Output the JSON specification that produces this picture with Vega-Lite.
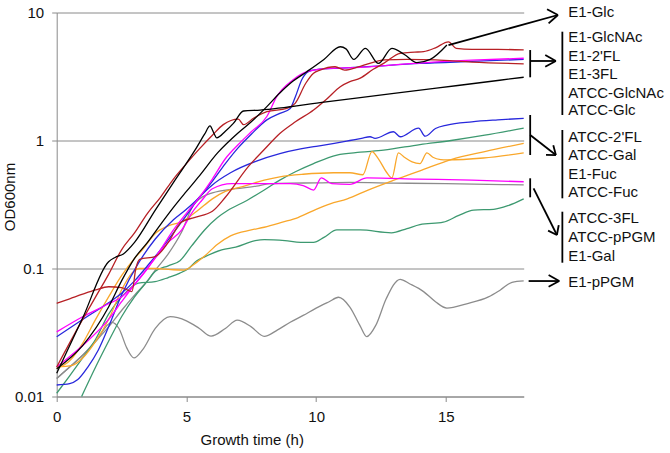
{
  "$schema": "https://vega.github.io/schema/vega-lite/v6.json",
  "autosize": {"type": "none"},
  "width": 467,
  "height": 384,
  "padding": {"left": 56.7, "top": 12.5, "right": 146.3, "bottom": 56.5},
  "background": "white",
  "config": {"view": {"stroke": null}, "font": "Liberation Sans"},
  "datasets": {
    "curves": [
      {"s":"E1-pPGM","x":0,"y":0.0138},{"s":"E1-pPGM","x":0.5,"y":0.017},{"s":"E1-pPGM","x":1,"y":0.021},{"s":"E1-pPGM","x":1.5,"y":0.027},{"s":"E1-pPGM","x":2.12,"y":0.038},{"s":"E1-pPGM","x":2.4,"y":0.034},{"s":"E1-pPGM","x":2.7,"y":0.024},{"s":"E1-pPGM","x":2.98,"y":0.02},{"s":"E1-pPGM","x":3.3,"y":0.023},{"s":"E1-pPGM","x":3.8,"y":0.034},{"s":"E1-pPGM","x":4.37,"y":0.042},{"s":"E1-pPGM","x":5,"y":0.039},{"s":"E1-pPGM","x":5.5,"y":0.034},{"s":"E1-pPGM","x":5.95,"y":0.0296},{"s":"E1-pPGM","x":6.5,"y":0.034},{"s":"E1-pPGM","x":6.96,"y":0.0395},{"s":"E1-pPGM","x":7.5,"y":0.035},{"s":"E1-pPGM","x":8,"y":0.0295},{"s":"E1-pPGM","x":8.5,"y":0.033},{"s":"E1-pPGM","x":9,"y":0.038},{"s":"E1-pPGM","x":9.5,"y":0.043},{"s":"E1-pPGM","x":10,"y":0.049},{"s":"E1-pPGM","x":10.5,"y":0.055},{"s":"E1-pPGM","x":10.86,"y":0.0596},{"s":"E1-pPGM","x":11.3,"y":0.05},{"s":"E1-pPGM","x":11.7,"y":0.0355},{"s":"E1-pPGM","x":11.95,"y":0.0294},{"s":"E1-pPGM","x":12.3,"y":0.036},{"s":"E1-pPGM","x":12.7,"y":0.058},{"s":"E1-pPGM","x":13.24,"y":0.0823},{"s":"E1-pPGM","x":13.6,"y":0.076},{"s":"E1-pPGM","x":14.14,"y":0.066},{"s":"E1-pPGM","x":14.6,"y":0.055},{"s":"E1-pPGM","x":15.04,"y":0.049},{"s":"E1-pPGM","x":15.8,"y":0.053},{"s":"E1-pPGM","x":16.64,"y":0.06},{"s":"E1-pPGM","x":17.1,"y":0.068},{"s":"E1-pPGM","x":17.55,"y":0.078},{"s":"E1-pPGM","x":18,"y":0.08},

      {"s":"ATCC-pPGM","x":0,"y":0.0138},{"s":"ATCC-pPGM","x":0.5,"y":0.017},{"s":"ATCC-pPGM","x":1,"y":0.021},{"s":"ATCC-pPGM","x":1.5,"y":0.027},{"s":"ATCC-pPGM","x":2,"y":0.035},{"s":"ATCC-pPGM","x":2.5,"y":0.047},{"s":"ATCC-pPGM","x":3,"y":0.062},{"s":"ATCC-pPGM","x":3.5,"y":0.08},{"s":"ATCC-pPGM","x":3.8,"y":0.097},{"s":"ATCC-pPGM","x":4.3,"y":0.13},{"s":"ATCC-pPGM","x":4.8,"y":0.19},{"s":"ATCC-pPGM","x":5.3,"y":0.32},{"s":"ATCC-pPGM","x":6,"y":0.39},{"s":"ATCC-pPGM","x":6.9,"y":0.42},{"s":"ATCC-pPGM","x":7.7,"y":0.44},{"s":"ATCC-pPGM","x":8.2,"y":0.46},{"s":"ATCC-pPGM","x":9,"y":0.465},{"s":"ATCC-pPGM","x":10,"y":0.466},{"s":"ATCC-pPGM","x":11.3,"y":0.47},{"s":"ATCC-pPGM","x":13,"y":0.465},{"s":"ATCC-pPGM","x":15,"y":0.46},{"s":"ATCC-pPGM","x":18,"y":0.45},

      {"s":"E1-Gal","x":0,"y":0.0106},{"s":"E1-Gal","x":0.5,"y":0.0145},{"s":"E1-Gal","x":1,"y":0.02},{"s":"E1-Gal","x":1.5,"y":0.028},{"s":"E1-Gal","x":2,"y":0.044},{"s":"E1-Gal","x":2.5,"y":0.06},{"s":"E1-Gal","x":3.15,"y":0.077},{"s":"E1-Gal","x":3.79,"y":0.079},{"s":"E1-Gal","x":4.3,"y":0.085},{"s":"E1-Gal","x":4.75,"y":0.092},{"s":"E1-Gal","x":5.08,"y":0.1},{"s":"E1-Gal","x":5.4,"y":0.115},{"s":"E1-Gal","x":5.72,"y":0.124},{"s":"E1-Gal","x":6.36,"y":0.14},{"s":"E1-Gal","x":6.9,"y":0.147},{"s":"E1-Gal","x":7.65,"y":0.165},{"s":"E1-Gal","x":8,"y":0.168},{"s":"E1-Gal","x":8.8,"y":0.165},{"s":"E1-Gal","x":9.4,"y":0.16},{"s":"E1-Gal","x":9.9,"y":0.16},{"s":"E1-Gal","x":10.3,"y":0.175},{"s":"E1-Gal","x":10.8,"y":0.2},{"s":"E1-Gal","x":11.7,"y":0.2},{"s":"E1-Gal","x":12.9,"y":0.19},{"s":"E1-Gal","x":13.5,"y":0.205},{"s":"E1-Gal","x":14,"y":0.22},{"s":"E1-Gal","x":14.9,"y":0.23},{"s":"E1-Gal","x":15.5,"y":0.26},{"s":"E1-Gal","x":16.07,"y":0.286},{"s":"E1-Gal","x":16.84,"y":0.29},{"s":"E1-Gal","x":17.4,"y":0.31},{"s":"E1-Gal","x":18,"y":0.35},

      {"s":"ATCC-Gal","x":0.96,"y":0.01},{"s":"ATCC-Gal","x":1.5,"y":0.017},{"s":"ATCC-Gal","x":2,"y":0.027},{"s":"ATCC-Gal","x":2.5,"y":0.042},{"s":"ATCC-Gal","x":3,"y":0.06},{"s":"ATCC-Gal","x":3.5,"y":0.08},{"s":"ATCC-Gal","x":3.8,"y":0.095},{"s":"ATCC-Gal","x":4.3,"y":0.105},{"s":"ATCC-Gal","x":4.75,"y":0.115},{"s":"ATCC-Gal","x":5.2,"y":0.15},{"s":"ATCC-Gal","x":5.7,"y":0.2},{"s":"ATCC-Gal","x":6.2,"y":0.25},{"s":"ATCC-Gal","x":6.6,"y":0.285},{"s":"ATCC-Gal","x":7.33,"y":0.34},{"s":"ATCC-Gal","x":8,"y":0.41},{"s":"ATCC-Gal","x":8.6,"y":0.49},{"s":"ATCC-Gal","x":9.2,"y":0.57},{"s":"ATCC-Gal","x":9.9,"y":0.66},{"s":"ATCC-Gal","x":10.8,"y":0.77},{"s":"ATCC-Gal","x":11.7,"y":0.81},{"s":"ATCC-Gal","x":12.6,"y":0.84},{"s":"ATCC-Gal","x":14,"y":0.93},{"s":"ATCC-Gal","x":15.2,"y":1.0},{"s":"ATCC-Gal","x":16.5,"y":1.1},{"s":"ATCC-Gal","x":18,"y":1.25},

      {"s":"E1-Fuc","x":0,"y":0.017},{"s":"E1-Fuc","x":0.6,"y":0.0175},{"s":"E1-Fuc","x":1,"y":0.02},{"s":"E1-Fuc","x":1.5,"y":0.027},{"s":"E1-Fuc","x":2,"y":0.04},{"s":"E1-Fuc","x":2.5,"y":0.068},{"s":"E1-Fuc","x":2.9,"y":0.092},{"s":"E1-Fuc","x":3.2,"y":0.1},{"s":"E1-Fuc","x":3.8,"y":0.1},{"s":"E1-Fuc","x":4.4,"y":0.098},{"s":"E1-Fuc","x":4.9,"y":0.097},{"s":"E1-Fuc","x":5.3,"y":0.108},{"s":"E1-Fuc","x":5.7,"y":0.125},{"s":"E1-Fuc","x":6.2,"y":0.155},{"s":"E1-Fuc","x":6.7,"y":0.18},{"s":"E1-Fuc","x":7.5,"y":0.2},{"s":"E1-Fuc","x":8,"y":0.21},{"s":"E1-Fuc","x":8.7,"y":0.23},{"s":"E1-Fuc","x":9.3,"y":0.25},{"s":"E1-Fuc","x":10,"y":0.29},{"s":"E1-Fuc","x":10.54,"y":0.32},{"s":"E1-Fuc","x":11.2,"y":0.35},{"s":"E1-Fuc","x":12,"y":0.41},{"s":"E1-Fuc","x":13,"y":0.49},{"s":"E1-Fuc","x":14,"y":0.58},{"s":"E1-Fuc","x":15.2,"y":0.71},{"s":"E1-Fuc","x":16.5,"y":0.82},{"s":"E1-Fuc","x":18,"y":0.95},

      {"s":"ATCC-Fuc","x":0,"y":0.0165},{"s":"ATCC-Fuc","x":0.5,"y":0.019},{"s":"ATCC-Fuc","x":1,"y":0.026},{"s":"ATCC-Fuc","x":1.5,"y":0.04},{"s":"ATCC-Fuc","x":2,"y":0.06},{"s":"ATCC-Fuc","x":2.5,"y":0.088},{"s":"ATCC-Fuc","x":3,"y":0.12},{"s":"ATCC-Fuc","x":3.3,"y":0.14},{"s":"ATCC-Fuc","x":3.8,"y":0.188},{"s":"ATCC-Fuc","x":4.3,"y":0.215},{"s":"ATCC-Fuc","x":4.82,"y":0.232},{"s":"ATCC-Fuc","x":5.4,"y":0.28},{"s":"ATCC-Fuc","x":6,"y":0.35},{"s":"ATCC-Fuc","x":6.5,"y":0.4},{"s":"ATCC-Fuc","x":7.13,"y":0.435},{"s":"ATCC-Fuc","x":8,"y":0.49},{"s":"ATCC-Fuc","x":8.6,"y":0.52},{"s":"ATCC-Fuc","x":9.5,"y":0.545},{"s":"ATCC-Fuc","x":10.67,"y":0.56},{"s":"ATCC-Fuc","x":11.3,"y":0.56},{"s":"ATCC-Fuc","x":11.8,"y":0.54},{"s":"ATCC-Fuc","x":12.15,"y":0.82},{"s":"ATCC-Fuc","x":12.4,"y":0.72},{"s":"ATCC-Fuc","x":12.7,"y":0.57},{"s":"ATCC-Fuc","x":12.92,"y":0.51},{"s":"ATCC-Fuc","x":13.17,"y":0.8},{"s":"ATCC-Fuc","x":13.4,"y":0.74},{"s":"ATCC-Fuc","x":13.7,"y":0.68},{"s":"ATCC-Fuc","x":14,"y":0.66},{"s":"ATCC-Fuc","x":14.27,"y":0.8},{"s":"ATCC-Fuc","x":14.5,"y":0.74},{"s":"ATCC-Fuc","x":14.8,"y":0.71},{"s":"ATCC-Fuc","x":15.04,"y":0.705},{"s":"ATCC-Fuc","x":16.45,"y":0.73},{"s":"ATCC-Fuc","x":18,"y":0.8},

      {"s":"ATCC-2'FL","x":0,"y":0.0293},{"s":"ATCC-2'FL","x":1,"y":0.04},{"s":"ATCC-2'FL","x":2,"y":0.054},{"s":"ATCC-2'FL","x":2.5,"y":0.064},{"s":"ATCC-2'FL","x":3,"y":0.08},{"s":"ATCC-2'FL","x":3.5,"y":0.105},{"s":"ATCC-2'FL","x":4,"y":0.14},{"s":"ATCC-2'FL","x":4.5,"y":0.19},{"s":"ATCC-2'FL","x":5,"y":0.26},{"s":"ATCC-2'FL","x":5.5,"y":0.36},{"s":"ATCC-2'FL","x":6,"y":0.45},{"s":"ATCC-2'FL","x":6.7,"y":0.56},{"s":"ATCC-2'FL","x":7.7,"y":0.69},{"s":"ATCC-2'FL","x":8.6,"y":0.79},{"s":"ATCC-2'FL","x":9.4,"y":0.86},{"s":"ATCC-2'FL","x":10,"y":0.9},{"s":"ATCC-2'FL","x":10.7,"y":0.95},{"s":"ATCC-2'FL","x":11.3,"y":1.0},{"s":"ATCC-2'FL","x":11.75,"y":1.04},{"s":"ATCC-2'FL","x":12.08,"y":1.07},{"s":"ATCC-2'FL","x":12.27,"y":1.04},{"s":"ATCC-2'FL","x":12.98,"y":1.17},{"s":"ATCC-2'FL","x":13.24,"y":1.07},{"s":"ATCC-2'FL","x":13.95,"y":1.25},{"s":"ATCC-2'FL","x":14.2,"y":1.08},{"s":"ATCC-2'FL","x":14.6,"y":1.24},{"s":"ATCC-2'FL","x":15.04,"y":1.32},{"s":"ATCC-2'FL","x":16,"y":1.4},{"s":"ATCC-2'FL","x":17,"y":1.45},{"s":"ATCC-2'FL","x":18,"y":1.49},

      {"s":"E1-2'FL","x":0,"y":0.0123},{"s":"E1-2'FL","x":0.5,"y":0.0126},{"s":"E1-2'FL","x":0.8,"y":0.0135},{"s":"E1-2'FL","x":1.2,"y":0.017},{"s":"E1-2'FL","x":1.6,"y":0.023},{"s":"E1-2'FL","x":2,"y":0.035},{"s":"E1-2'FL","x":2.5,"y":0.062},{"s":"E1-2'FL","x":3.15,"y":0.11},{"s":"E1-2'FL","x":3.8,"y":0.17},{"s":"E1-2'FL","x":4.5,"y":0.24},{"s":"E1-2'FL","x":5,"y":0.29},{"s":"E1-2'FL","x":5.5,"y":0.36},{"s":"E1-2'FL","x":6,"y":0.48},{"s":"E1-2'FL","x":6.5,"y":0.66},{"s":"E1-2'FL","x":7,"y":0.88},{"s":"E1-2'FL","x":7.5,"y":1.12},{"s":"E1-2'FL","x":8.1,"y":1.45},{"s":"E1-2'FL","x":8.6,"y":1.63},{"s":"E1-2'FL","x":9,"y":1.78},{"s":"E1-2'FL","x":9.2,"y":2.2},{"s":"E1-2'FL","x":9.45,"y":3.0},{"s":"E1-2'FL","x":9.7,"y":3.45},{"s":"E1-2'FL","x":10,"y":3.58},{"s":"E1-2'FL","x":11,"y":3.68},{"s":"E1-2'FL","x":12,"y":3.78},{"s":"E1-2'FL","x":14,"y":4.0},{"s":"E1-2'FL","x":16,"y":4.15},{"s":"E1-2'FL","x":18,"y":4.3},

      {"s":"ATCC-3FL","x":0,"y":0.032},{"s":"ATCC-3FL","x":1,"y":0.042},{"s":"ATCC-3FL","x":2,"y":0.053},{"s":"ATCC-3FL","x":2.5,"y":0.06},{"s":"ATCC-3FL","x":3,"y":0.075},{"s":"ATCC-3FL","x":3.79,"y":0.12},{"s":"ATCC-3FL","x":4.3,"y":0.16},{"s":"ATCC-3FL","x":4.82,"y":0.2},{"s":"ATCC-3FL","x":5.2,"y":0.27},{"s":"ATCC-3FL","x":5.59,"y":0.34},{"s":"ATCC-3FL","x":6,"y":0.42},{"s":"ATCC-3FL","x":6.75,"y":0.46},{"s":"ATCC-3FL","x":8,"y":0.46},{"s":"ATCC-3FL","x":9,"y":0.46},{"s":"ATCC-3FL","x":9.5,"y":0.445},{"s":"ATCC-3FL","x":9.9,"y":0.41},{"s":"ATCC-3FL","x":10.2,"y":0.51},{"s":"ATCC-3FL","x":10.6,"y":0.46},{"s":"ATCC-3FL","x":11.3,"y":0.455},{"s":"ATCC-3FL","x":11.96,"y":0.51},{"s":"ATCC-3FL","x":13.9,"y":0.5},{"s":"ATCC-3FL","x":16,"y":0.49},{"s":"ATCC-3FL","x":18,"y":0.476},

      {"s":"E1-3FL","x":0,"y":0.017},{"s":"E1-3FL","x":1,"y":0.025},{"s":"E1-3FL","x":2,"y":0.04},{"s":"E1-3FL","x":2.5,"y":0.055},{"s":"E1-3FL","x":3,"y":0.075},{"s":"E1-3FL","x":3.5,"y":0.1},{"s":"E1-3FL","x":4,"y":0.14},{"s":"E1-3FL","x":4.5,"y":0.2},{"s":"E1-3FL","x":5,"y":0.27},{"s":"E1-3FL","x":5.5,"y":0.36},{"s":"E1-3FL","x":6,"y":0.5},{"s":"E1-3FL","x":6.5,"y":0.72},{"s":"E1-3FL","x":7,"y":0.93},{"s":"E1-3FL","x":7.5,"y":1.17},{"s":"E1-3FL","x":8.1,"y":1.54},{"s":"E1-3FL","x":8.48,"y":2.2},{"s":"E1-3FL","x":9.1,"y":2.97},{"s":"E1-3FL","x":9.64,"y":3.45},{"s":"E1-3FL","x":10.54,"y":3.66},{"s":"E1-3FL","x":11.7,"y":3.72},{"s":"E1-3FL","x":13,"y":3.9},{"s":"E1-3FL","x":14.5,"y":4.1},{"s":"E1-3FL","x":16,"y":4.25},{"s":"E1-3FL","x":18,"y":4.39},

      {"s":"E1-GlcNAc","x":0,"y":0.0535},{"s":"E1-GlcNAc","x":0.5,"y":0.058},{"s":"E1-GlcNAc","x":1,"y":0.063},{"s":"E1-GlcNAc","x":1.5,"y":0.068},{"s":"E1-GlcNAc","x":2,"y":0.072},{"s":"E1-GlcNAc","x":2.5,"y":0.071},{"s":"E1-GlcNAc","x":2.9,"y":0.066},{"s":"E1-GlcNAc","x":3.05,"y":0.1},{"s":"E1-GlcNAc","x":3.2,"y":0.118},{"s":"E1-GlcNAc","x":3.8,"y":0.124},{"s":"E1-GlcNAc","x":4.3,"y":0.16},{"s":"E1-GlcNAc","x":4.8,"y":0.23},{"s":"E1-GlcNAc","x":5.3,"y":0.25},{"s":"E1-GlcNAc","x":6,"y":0.28},{"s":"E1-GlcNAc","x":6.5,"y":0.36},{"s":"E1-GlcNAc","x":7.4,"y":0.63},{"s":"E1-GlcNAc","x":8,"y":0.85},{"s":"E1-GlcNAc","x":8.61,"y":1.14},{"s":"E1-GlcNAc","x":9.2,"y":1.4},{"s":"E1-GlcNAc","x":9.9,"y":1.73},{"s":"E1-GlcNAc","x":10.4,"y":2.1},{"s":"E1-GlcNAc","x":10.93,"y":2.63},{"s":"E1-GlcNAc","x":11.3,"y":2.88},{"s":"E1-GlcNAc","x":11.7,"y":3.07},{"s":"E1-GlcNAc","x":12.2,"y":3.6},{"s":"E1-GlcNAc","x":12.6,"y":4.0},{"s":"E1-GlcNAc","x":13.24,"y":4.8},{"s":"E1-GlcNAc","x":13.8,"y":4.9},{"s":"E1-GlcNAc","x":14.14,"y":4.95},{"s":"E1-GlcNAc","x":14.6,"y":5.3},{"s":"E1-GlcNAc","x":15.1,"y":5.9},{"s":"E1-GlcNAc","x":15.4,"y":5.25},{"s":"E1-GlcNAc","x":16,"y":5.15},{"s":"E1-GlcNAc","x":17,"y":5.15},{"s":"E1-GlcNAc","x":18,"y":5.1},

      {"s":"ATCC-GlcNAc","x":0,"y":0.017},{"s":"ATCC-GlcNAc","x":1,"y":0.04},{"s":"ATCC-GlcNAc","x":1.5,"y":0.06},{"s":"ATCC-GlcNAc","x":2,"y":0.09},{"s":"ATCC-GlcNAc","x":2.5,"y":0.14},{"s":"ATCC-GlcNAc","x":3,"y":0.19},{"s":"ATCC-GlcNAc","x":3.5,"y":0.27},{"s":"ATCC-GlcNAc","x":4,"y":0.36},{"s":"ATCC-GlcNAc","x":4.5,"y":0.5},{"s":"ATCC-GlcNAc","x":5,"y":0.66},{"s":"ATCC-GlcNAc","x":5.5,"y":0.86},{"s":"ATCC-GlcNAc","x":6,"y":1.1},{"s":"ATCC-GlcNAc","x":6.42,"y":1.33},{"s":"ATCC-GlcNAc","x":7,"y":1.47},{"s":"ATCC-GlcNAc","x":7.2,"y":1.33},{"s":"ATCC-GlcNAc","x":7.6,"y":1.5},{"s":"ATCC-GlcNAc","x":8.1,"y":1.68},{"s":"ATCC-GlcNAc","x":8.87,"y":1.78},{"s":"ATCC-GlcNAc","x":9.19,"y":1.95},{"s":"ATCC-GlcNAc","x":9.6,"y":2.8},{"s":"ATCC-GlcNAc","x":9.9,"y":3.35},{"s":"ATCC-GlcNAc","x":10.15,"y":3.55},{"s":"ATCC-GlcNAc","x":10.73,"y":3.77},{"s":"ATCC-GlcNAc","x":11.1,"y":3.55},{"s":"ATCC-GlcNAc","x":11.7,"y":3.8},{"s":"ATCC-GlcNAc","x":12.66,"y":4.26},{"s":"ATCC-GlcNAc","x":13.5,"y":4.3},{"s":"ATCC-GlcNAc","x":14.6,"y":4.26},{"s":"ATCC-GlcNAc","x":16,"y":4.1},{"s":"ATCC-GlcNAc","x":18,"y":3.97},

      {"s":"ATCC-Glc","x":0,"y":0.0152},{"s":"ATCC-Glc","x":1,"y":0.041},{"s":"ATCC-Glc","x":2,"y":0.113},{"s":"ATCC-Glc","x":2.25,"y":0.122},{"s":"ATCC-Glc","x":2.57,"y":0.13},{"s":"ATCC-Glc","x":3,"y":0.16},{"s":"ATCC-Glc","x":3.8,"y":0.286},{"s":"ATCC-Glc","x":4.56,"y":0.49},{"s":"ATCC-Glc","x":5.33,"y":0.84},{"s":"ATCC-Glc","x":5.7,"y":1.12},{"s":"ATCC-Glc","x":5.91,"y":1.3},{"s":"ATCC-Glc","x":6.05,"y":1.15},{"s":"ATCC-Glc","x":6.17,"y":1.05},{"s":"ATCC-Glc","x":6.5,"y":1.18},{"s":"ATCC-Glc","x":6.81,"y":1.36},{"s":"ATCC-Glc","x":7.2,"y":1.7},{"s":"ATCC-Glc","x":7.84,"y":1.73},{"s":"ATCC-Glc","x":10.38,"y":2.005},{"s":"ATCC-Glc","x":12.92,"y":2.32},{"s":"ATCC-Glc","x":15.46,"y":2.69},{"s":"ATCC-Glc","x":18,"y":3.12},

      {"s":"E1-Glc","x":0,"y":0.0165},{"s":"E1-Glc","x":1,"y":0.025},{"s":"E1-Glc","x":2,"y":0.05},{"s":"E1-Glc","x":2.5,"y":0.08},{"s":"E1-Glc","x":3,"y":0.12},{"s":"E1-Glc","x":3.5,"y":0.16},{"s":"E1-Glc","x":4,"y":0.22},{"s":"E1-Glc","x":4.5,"y":0.3},{"s":"E1-Glc","x":5,"y":0.4},{"s":"E1-Glc","x":5.5,"y":0.53},{"s":"E1-Glc","x":6.2,"y":0.8},{"s":"E1-Glc","x":7,"y":1.15},{"s":"E1-Glc","x":7.5,"y":1.4},{"s":"E1-Glc","x":8.1,"y":1.84},{"s":"E1-Glc","x":8.6,"y":2.35},{"s":"E1-Glc","x":9.1,"y":2.9},{"s":"E1-Glc","x":9.64,"y":3.45},{"s":"E1-Glc","x":10.3,"y":4.3},{"s":"E1-Glc","x":10.93,"y":5.4},{"s":"E1-Glc","x":11.15,"y":5.2},{"s":"E1-Glc","x":11.45,"y":4.3},{"s":"E1-Glc","x":11.9,"y":5.25},{"s":"E1-Glc","x":12.4,"y":4.0},{"s":"E1-Glc","x":12.92,"y":5.25},{"s":"E1-Glc","x":13.4,"y":4.7},{"s":"E1-Glc","x":13.88,"y":4.06},{"s":"E1-Glc","x":14.4,"y":4.3},{"s":"E1-Glc","x":15.04,"y":5.57}
    ],
    "segs": [
      {"x":15.10,"y":5.57,"x2":19.32,"y2":9.56},
      {"x":19.32,"y":9.56,"x2":18.90,"y2":10.59},
      {"x":19.32,"y":9.56,"x2":18.96,"y2":8.23},
      {"x":18.25,"y":5.09,"x2":18.25,"y2":3.117},
      {"x":18.25,"y":4.18,"x2":19.24,"y2":4.18},
      {"x":19.24,"y":4.18,"x2":18.83,"y2":4.66},
      {"x":19.24,"y":4.18,"x2":18.83,"y2":3.773},
      {"x":19.49,"y":7.08,"x2":19.49,"y2":1.582},
      {"x":18.25,"y":1.582,"x2":18.25,"y2":0.77},
      {"x":18.25,"y":1.104,"x2":19.24,"y2":0.77},
      {"x":19.24,"y":0.77,"x2":19.14,"y2":0.917},
      {"x":19.24,"y":0.77,"x2":18.86,"y2":0.773},
      {"x":19.49,"y":1.208,"x2":19.49,"y2":0.3535},
      {"x":18.25,"y":0.5067,"x2":18.25,"y2":0.36},
      {"x":18.38,"y":0.4232,"x2":19.28,"y2":0.1827},
      {"x":19.28,"y":0.1827,"x2":19.35,"y2":0.218},
      {"x":19.28,"y":0.1827,"x2":18.94,"y2":0.1977},
      {"x":19.49,"y":0.2778,"x2":19.49,"y2":0.111},
      {"x":18.19,"y":0.0798,"x2":19.37,"y2":0.0798},
      {"x":19.37,"y":0.0798,"x2":18.96,"y2":0.089},
      {"x":19.37,"y":0.0798,"x2":18.96,"y2":0.0721}
    ],
    "labels": [
      {"label":"E1-Glc","x":19.72,"y":10.15},
      {"label":"E1-GlcNAc","x":19.72,"y":6.44},
      {"label":"E1-2'FL","x":19.72,"y":4.57},
      {"label":"E1-3FL","x":19.72,"y":3.31},
      {"label":"ATCC-GlcNAc","x":19.72,"y":2.363},
      {"label":"ATCC-Glc","x":19.72,"y":1.731},
      {"label":"ATCC-2'FL","x":19.72,"y":1.071},
      {"label":"ATCC-Gal","x":19.72,"y":0.770},
      {"label":"E1-Fuc","x":19.72,"y":0.5476},
      {"label":"ATCC-Fuc","x":19.72,"y":0.3938},
      {"label":"ATCC-3FL","x":19.72,"y":0.2467},
      {"label":"ATCC-pPGM","x":19.72,"y":0.1772},
      {"label":"E1-Gal","x":19.72,"y":0.1252},
      {"label":"E1-pPGM","x":19.72,"y":0.0788}
    ]
  },
  "encoding": {
    "x": {
      "field": "x", "type": "quantitative",
      "scale": {"domain": [0, 18], "nice": false, "zero": false},
      "axis": {
        "values": [0, 5, 10, 15], "grid": false,
        "domainColor": "#8a8a8a", "tickColor": "#8a8a8a", "tickSize": 5,
        "labelPadding": 8, "labelFontSize": 15, "labelFont": "Liberation Sans", "labelColor": "#111",
        "labelFlush": false, "labelOverlap": false,
        "title": "Growth time (h)", "titleFontSize": 15, "titleFont": "Liberation Sans", "titleFontWeight": "normal", "titleColor": "#111",
        "titleX": 195, "titleY": 48, "titleAlign": "center", "titleBaseline": "alphabetic"
      }
    },
    "y": {
      "field": "y", "type": "quantitative",
      "scale": {"type": "log", "domain": [0.01, 10], "nice": false},
      "axis": {
        "values": [0.01, 0.1, 1, 10], "format": "~g", "grid": true,
        "gridColor": "#8a8a8a", "gridWidth": 1,
        "domainColor": "#8a8a8a", "tickColor": "#8a8a8a", "tickSize": 5,
        "labelPadding": 8, "labelFontSize": 15, "labelFont": "Liberation Sans", "labelColor": "#111",
        "labelFlush": false, "labelOverlap": false,
        "title": "OD600nm", "titleFontSize": 15, "titleFont": "Liberation Sans", "titleFontWeight": "normal", "titleColor": "#111",
        "titleX": -47, "titleY": 184, "titleAngle": 270, "titleAlign": "center", "titleBaseline": "middle"
      }
    }
  },
  "layer": [
    {
      "data": {"name": "curves"},
      "mark": {"type": "line", "interpolate": "monotone", "strokeWidth": 1.3},
      "encoding": {
        "color": {
          "field": "s", "type": "nominal", "legend": null,
          "scale": {
            "domain": ["E1-pPGM","ATCC-pPGM","E1-Gal","ATCC-Gal","E1-Fuc","ATCC-Fuc","ATCC-2'FL","E1-2'FL","ATCC-3FL","E1-3FL","E1-GlcNAc","ATCC-GlcNAc","ATCC-Glc","E1-Glc"],
            "range": ["#8c8c8c","#8c8c8c","#3d9970","#3d9970","#f9a72b","#f9a72b","#2828dc","#2828dc","#ff00ff","#ff00ff","#b72025","#b72025","#000000","#000000"]
          }
        },
        "detail": {"field": "s"}
      }
    },
    {
      "data": {"name": "segs"},
      "mark": {"type": "rule", "color": "#000000", "strokeWidth": 1.8},
      "encoding": {
        "x2": {"field": "x2"},
        "y2": {"field": "y2"}
      }
    },
    {
      "data": {"name": "labels"},
      "mark": {"type": "text", "align": "left", "baseline": "middle", "fontSize": 15, "font": "Liberation Sans", "color": "#111"},
      "encoding": {
        "text": {"field": "label"}
      }
    }
  ]
}
